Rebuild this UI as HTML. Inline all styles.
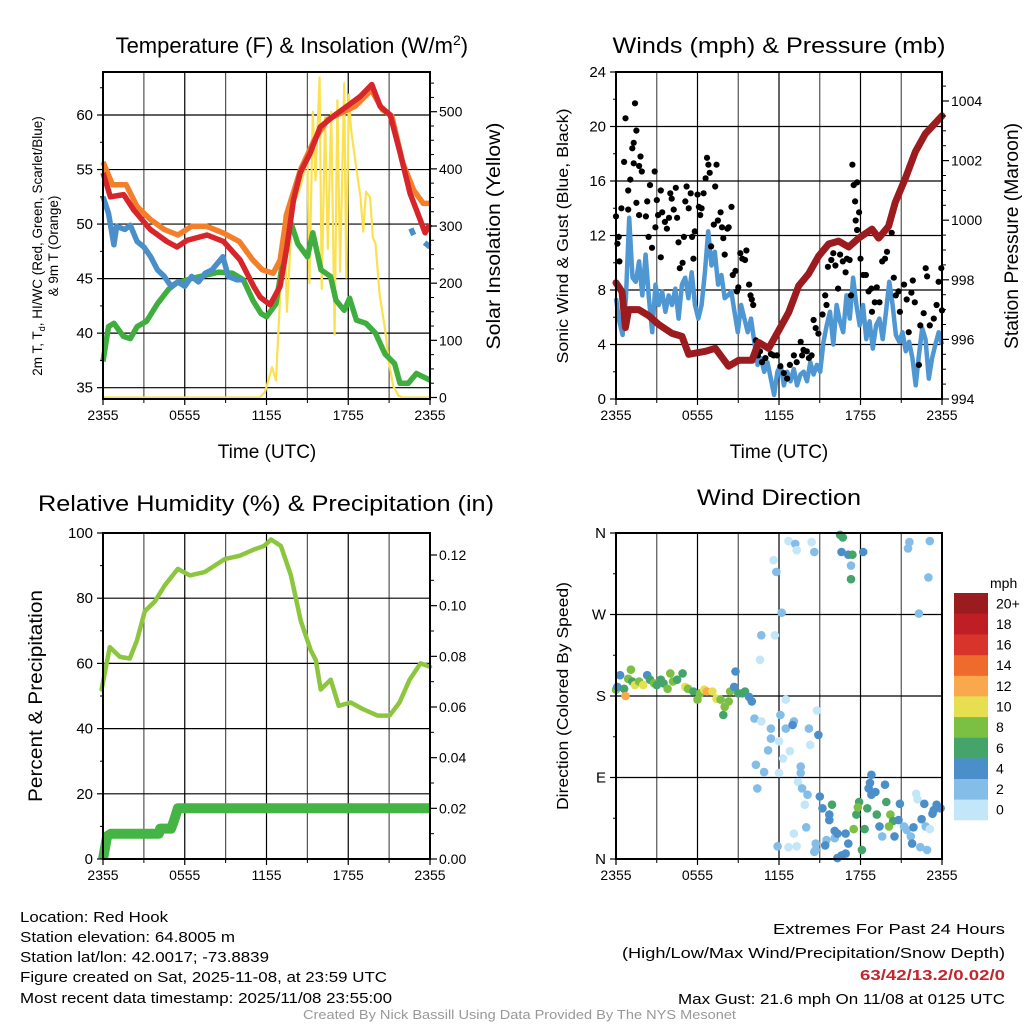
<!DOCTYPE html>
<html><head><meta charset="utf-8"><style>
html,body{margin:0;padding:0;background:#fff;}
svg{display:block;font-family:"Liberation Sans",Arial,sans-serif;}
</style></head><body>
<svg id="fig" width="1024" height="1024" viewBox="0 0 1024 1024" xmlns="http://www.w3.org/2000/svg">
<rect width="1024" height="1024" fill="#fff"/>
<g id="g1"></g>
<g id="g2"></g>
<g id="g3"></g>
<g id="g4"></g>
<g font-size="15" fill="#000">
<text x="20" y="922" textLength="148" lengthAdjust="spacingAndGlyphs">Location: Red Hook</text>
<text x="20" y="942" textLength="215" lengthAdjust="spacingAndGlyphs">Station elevation: 64.8005 m</text>
<text x="20" y="962" textLength="249" lengthAdjust="spacingAndGlyphs">Station lat/lon: 42.0017; -73.8839</text>
<text x="20" y="982" textLength="367" lengthAdjust="spacingAndGlyphs">Figure created on Sat, 2025-11-08, at 23:59 UTC</text>
<text x="20" y="1003" textLength="372" lengthAdjust="spacingAndGlyphs">Most recent data timestamp: 2025/11/08 23:55:00</text>
<text x="1005" y="934" text-anchor="end" textLength="232" lengthAdjust="spacingAndGlyphs">Extremes For Past 24 Hours</text>
<text x="1005" y="958" text-anchor="end" textLength="383" lengthAdjust="spacingAndGlyphs">(High/Low/Max Wind/Precipitation/Snow Depth)</text>
<text x="1005" y="980" text-anchor="end" fill="#c1272d" font-weight="bold" textLength="145" lengthAdjust="spacingAndGlyphs">63/42/13.2/0.02/0</text>
<text x="1005" y="1004" text-anchor="end" textLength="327" lengthAdjust="spacingAndGlyphs">Max Gust: 21.6 mph On 11/08 at 0125 UTC</text>
<text x="303" y="1019" font-size="12.5" fill="#999" textLength="433" lengthAdjust="spacingAndGlyphs">Created By Nick Bassill Using Data Provided By The NYS Mesonet</text>
</g>
</svg>
<script>
// ---------- data ----------
const xTickHours=[0,6,12,18,24];
const xTickLabels=["2355","0555","1155","1755","2355"];
// Panel 1
const redH=[0,0.54,1.52,2.25,3.47,4.69,5.43,6.16,7.63,8.85,10.07,11.05,11.54,12.27,13,13.5,13.98,14.47,15.2,15.94,16.92,17.9,18.88,19.73,20.34,21.08,21.81,22.54,23.28,23.64,24];
const redT=[54.7,52.5,52.7,51.3,49.5,48.4,47.9,48.5,49.0,48.4,46.7,44.3,43.3,42.6,44.3,47.9,52.2,54.7,56.5,58.9,59.9,60.8,61.7,62.8,60.8,60.0,56.5,52.8,50.4,49.2,50.0];
const orgH=[0,0.7,1.7,2.5,3.5,4.5,5.5,6.5,7.6,8.8,10,11,11.7,12.5,13,13.5,14.5,15.5,16.5,17.5,18.5,19.7,20.5,21.2,22,22.8,23.5,24];
const orgT=[55.7,53.6,53.6,51.6,50.4,49.5,49.0,49.8,49.8,49.2,48.4,46.7,45.8,45.5,46.7,51.0,55.0,57.7,59.6,60.2,60.8,62.3,60.5,59.9,55.6,53.1,51.9,51.9];
const bluH=[0,0.4,0.8,1,1.6,2,2.5,3,3.5,4,4.5,5,5.5,6,6.5,7,7.5,8,8.8,9.2,9.8,10.3,null,22.6,22.8,null,23.6,24];
const bluT=[52.5,51,48.1,49.8,49.5,49.9,48.4,47.9,47,45.8,45.2,44.3,44.7,44.3,45.2,44.7,45.5,45.8,47,45.2,44.9,44.9,null,49.6,49.0,null,48.3,47.9];
const grnH=[0,0.4,0.8,1.5,2,2.5,3.2,4,4.8,5.4,6.5,7.5,8.5,9.5,10.3,11,11.6,12,12.7,13.2,13.8,14.3,15,15.4,16,16.7,17.1,17.7,18.1,18.6,19.3,20,20.7,21.4,21.8,22.4,23,23.5,24];
const grnT=[37.4,40.6,40.9,39.7,39.5,40.6,41.1,42.7,44.0,44.6,45.0,45.3,45.6,45.5,44.9,43.0,41.8,41.5,42.7,46.7,50.1,48.2,47.0,49.2,45.8,45.2,43.0,42.1,43.2,41.2,40.9,40.0,38.1,37.2,35.4,35.4,36.3,36.0,35.7];
const solH=[0,11.5,11.9,12.4,12.7,12.9,13.3,13.5,13.9,14.5,15.0,15.15,15.4,15.6,15.9,16.05,16.3,16.5,16.75,17.0,17.2,17.4,17.7,17.85,18.05,18.2,18.6,18.9,19.1,19.3,19.6,19.8,20.0,20.3,20.7,21.0,21.3,21.7,22.0,24];
const solW=[0,0,10,53,30,130,320,150,330,370,420,200,500,380,560,190,490,260,500,110,520,220,550,210,530,470,400,350,290,360,350,280,270,180,120,60,20,3,0,0];
const tTicks=[35,40,45,50,55,60];
const sTicks=[0,100,200,300,400,500];
// Panel 2
const windMph=[7.4,5.7,4.7,7.4,13.3,8.9,8.6,10.1,7.6,10.6,7.4,4.9,8.4,6.9,7.9,6.4,7.6,6.9,8.1,5.9,8.4,8.9,7.4,9.3,6.9,5.9,6.9,9.3,12.3,9.8,10.8,8.4,9.1,7.4,7.6,7.9,6.4,4.9,6.9,5.9,4.9,5.9,4.2,2.5,3.0,2.0,2.7,1.5,0.3,2.0,2.5,1.0,2.0,1.3,2.2,1.0,1.8,2.0,1.3,2.7,1.8,2.5,2.0,4.2,5.4,6.4,4.0,6.9,5.7,4.9,7.6,5.9,8.9,6.9,5.4,6.9,4.4,5.7,3.7,5.4,5.9,4.4,6.4,8.6,6.9,4.7,4.2,4.9,3.5,4.2,3.0,1.0,3.2,5.2,4.4,1.5,3.0,4.0,4.9,4.0];
const gustH=[0,0.1,0.2,0.25,0.4,0.6,0.7,0.9,0.9,1.05,1.2,1.3,1.3,1.5,1.4,1.7,1.8,1.9,1.5,1.7,2.2,2.3,2.4,2.5,2.65,2.85,2.9,3.0,3.1,3.3,3.3,3.4,3.6,3.75,3.9,4.0,4.1,4.25,4.4,4.5,4.6,4.7,4.9,5.0,5.1,5.2,5.35,5.5,5.6,5.7,5.8,6.0,6.1,6.2,6.3,6.45,6.6,6.7,6.8,6.9,7.0,7.2,7.3,7.4,7.5,7.7,7.8,7.9,8.0,8.2,8.3,8.5,8.6,8.8,8.9,9.0,9.15,9.3,9.5,9.6,9.8,9.9,10.0,10.1,10.3,10.45,10.6,10.75,11.0,11.2,11.4,11.6,11.85,12.1,12.35,12.6,12.8,13.1,13.3,13.6,13.7,13.8,14.05,14.2,14.4,14.55,14.7,14.9,15.2,15.4,15.5,15.6,15.85,16.0,16.15,16.35,16.5,16.7,16.9,17.0,17.2,17.3,17.4,17.5,17.75,17.6,17.65,17.75,17.9,18.0,18.2,18.4,18.6,18.8,18.85,19.05,19.2,19.4,19.6,19.8,19.95,20.1,20.3,20.45,20.6,20.8,20.9,21.2,21.4,21.55,21.75,21.85,22.0,22.3,22.4,22.65,22.8,22.9,23.1,23.4,23.6,23.75,23.95,24.0];
const gustMph=[13.4,11.4,11.9,10.1,14,17.4,20.6,15.3,13.9,16.1,18.4,18.8,17.3,19.7,21.7,17.1,17.8,16.7,14.4,13.5,13.4,14.5,11.9,15.7,11.1,16.7,12.6,14.6,13.5,15.3,10.4,13.7,13,12.5,13.3,15.1,14.7,13.9,15.5,13.3,11.5,9.6,10,11.9,14.5,15.6,14,15.1,11.9,10.3,12.3,15,14.1,13.5,14,15.1,16.2,17.7,17.2,16.6,11.2,12.8,15.6,17.2,13.1,13.7,12.6,11.8,10.6,12.5,12.6,14.1,9.1,9.4,7.9,8.2,10.7,10.3,10.2,10.9,8.4,7.6,7.3,6.9,4.3,3.2,3.5,2.7,3.0,3.7,3.3,3.2,3.2,2.4,1.9,1.5,2.5,3.2,2.7,4.2,3.2,3.6,3.5,3.0,3.2,5.8,5.2,4.8,6.2,7.6,6.9,9.7,10.2,10.7,9.8,8.1,10.6,10.1,9.3,10.3,10.2,7.6,17.2,15.7,15.9,14.5,13.1,12.4,13.7,10.3,9.1,9.1,7.9,8.1,6.4,7.1,8.2,7.1,10.1,10.3,10.8,12.8,12.2,8.9,7.6,7.9,6.4,8.4,7.3,4.9,7.8,8.7,7.1,2.5,5.4,6.3,9.6,9.0,5.4,5.9,6.9,8.6,9.6,6.5];
const presH=[0,0.44,0.69,0.93,1.67,2.4,3.14,4.12,4.86,5.35,6.58,7.31,8.29,9.03,10.01,10.5,11.24,11.98,12.71,13.45,14.18,14.92,15.66,16.39,17.13,17.87,18.85,19.34,20.07,20.56,21.3,22.04,22.77,24];
const presMb=[997.9,997.6,996.4,997.0,997.0,996.8,996.5,996.2,996.1,995.5,995.6,995.7,995.1,995.3,995.3,995.9,995.7,996.3,996.9,997.8,998.2,998.8,999.2,999.3,999.1,999.4,999.7,999.4,999.8,1000.6,1001.4,1002.3,1002.9,1003.5];
const wTicks=[0,4,8,12,16,20,24];
const pTicks=[994,996,998,1000,1002,1004];
// Panel 3
const rhH=[-0.1,0.5,1.24,1.97,2.49,3.07,3.8,4.54,5.49,6.37,7.46,8.93,10.02,11.12,11.82,12.33,13.06,13.79,14.52,15.25,15.62,15.98,16.71,17.3,18.18,19.06,20.15,21.03,21.76,22.5,23.3,24];
const rhPct=[52,65,62,61.5,67,76,79,84,89,87,88,92,93,95,96,98,96,87,73,64,61,52,55,47,48,46,44,44,48,55,60,59];
const prH=[0,0.1,0.3,0.6,4.1,4.2,5.0,5.2,5.5,24];
const prIn=[0,0.003,0.009,0.01,0.01,0.012,0.012,0.015,0.02,0.02];
const rhTicks=[0,20,40,60,80,100];
const prTicks=[0,0.02,0.04,0.06,0.08,0.10,0.12];
const prTickLabels=["0.00","0.02","0.04","0.06","0.08","0.10","0.12"];
// Panel 4
const dirH=[0,0.1,0.3,0.6,0.7,0.9,1.1,1.2,1.4,1.7,2.0,2.3,2.5,2.8,3.0,3.3,3.5,3.8,4.0,4.2,4.5,4.9,5.1,5.3,5.7,6.0,6.2,6.5,6.7,7.1,7.4,7.7,7.9,8.0,8.3,8.4,8.7,8.8,9.0,9.3,9.5,9.8,10.0,
10.2,10.7,11.4,11.4,11.2,10.3,10.9,10.4,10.6,10.7,11.7,11.6,11.8,12.2,12.7,13.2,13.3,14.4,14.6,12.5,12.1,12.5,13.1,13.0,12.0,12.8,12.3,12.0,13.6,13.6,13.4,14.2,14.3,14.9,14.8,13.7,14.1,13.9,14.0,13.1,13.3,12.7,11.9,15.0,15.2,15.9,15.7,15.7,16.1,16.1,16.3,15.5,15.4,14.7,14.7,14.6,16.3,16.6,16.9,17.1,16.9,17.5,17.7,17.9,17.8,18.1,18.3,18.5,18.8,18.7,18.6,19.1,18.8,19.8,19.2,19.4,19.6,19.9,20.2,20.4,20.5,20.1,20.8,20.9,21.2,21.4,21.7,21.8,21.9,22.1,22.2,22.5,22.7,22.8,22.9,22.4,23.1,23.4,23.6,23.9,23.3,
16.5,16.7,16.6,17.1,17.4,17.3,17.3,18.2,21.6,21.5,23.1,23.0,22.3];
const dirDeg=[187,190,203,188,180,199,209,196,192,196,192,203,198,194,192,198,194,188,205,196,198,205,190,188,185,176,183,187,185,185,177,176,159,168,174,185,190,207,183,183,185,179,174,
155,152,144,133,120,104,96,78,220,247,247,330,317,272,351,348,341,350,339,176,159,144,152,148,130,119,111,95,95,102,85,144,126,137,164,78,71,60,35,28,14,13,14,69,56,60,49,43,31,23,28,21,15,17,10,8,1,4,6,17,28,33,49,63,57,10,33,56,93,84,78,74,71,82,49,36,25,63,49,42,25,36,43,61,36,32,25,17,35,72,66,44,61,36,10,13,33,54,60,56,50,
358,355,339,336,336,324,309,339,350,343,351,311,271];
const dirSpd=[8,4,4,6,12,8,8,6,10,8,10,4,6,8,6,6,6,8,8,8,6,6,10,8,6,8,8,10,12,10,10,8,6,8,8,8,4,4,6,6,6,4,4,
2,1,3,3,3,2,3,3,1,2,1,1,2,2,1,2,1,1,2,1,3,2,2,4,1,1,1,1,3,2,1,3,1,4,1,3,3,1,3,1,1,1,3,4,4,6,5,4,4,3,4,2,4,3,2,3,4,4,4,4,4,8,6,6,8,6,6,6,4,4,4,4,4,4,6,4,2,6,8,6,4,8,4,4,3,3,3,4,4,1,1,4,4,3,3,2,1,4,4,4,4,
6,6,4,4,6,3,6,4,3,3,3,3,3];
const dirTickDeg=[0,90,180,270,360];
const dirTickLabels=["N","E","S","W","N"];
const cbLabels=["0","2","4","6","8","10","12","14","16","18","20+"];
const cbColors=["#c3e6f8","#84bde7","#4a8fca","#45a46a","#7cc043","#e6df50","#f9a84b","#ef6a2d","#d9342b","#bf1e24","#9a1c1f"];

// ---------- helpers ----------
const NS="http://www.w3.org/2000/svg";
function el(tag,parent,attrs){const e=document.createElementNS(NS,tag);for(const k in attrs)e.setAttribute(k,attrs[k]);parent.appendChild(e);return e;}
function lin(d0,d1,r0,r1){return v=>r0+(v-d0)*(r1-r0)/(d1-d0);}
function pathFrom(xs,ys,fx,fy){let d="",pen=false;for(let i=0;i<xs.length;i++){if(xs[i]===null||ys[i]===null){pen=false;continue;}d+=(pen?"L":"M")+fx(xs[i]).toFixed(1)+" "+fy(ys[i]).toFixed(1);pen=true;}return d;}
function txt(parent,x,y,s,attrs){const t=el("text",parent,attrs);t.setAttribute("x",x);t.setAttribute("y",y);t.textContent=s;return t;}

function frame(g,L,R,T,B,xs,hY,fy){
  const grid=el("g",g,{stroke:"#000","stroke-width":"1.2"});
  
  
  for(let h=3;h<24;h+=3){el("line",grid,{x1:xs(h),x2:xs(h),y1:T,y2:B,stroke:(h%6==0?"#000":"#555")});}
  hY.forEach(v=>{const y=fy(v);if(y>T+1&&y<B-1)el("line",grid,{x1:L,x2:R,y1:y,y2:y});});
  const xt=el("g",g,{"font-size":"14","text-anchor":"middle"});
  
  
  xTickHours.forEach((h,i)=>{el("line",xt,{x1:xs(h),x2:xs(h),y1:B,y2:B+6,stroke:"#000","stroke-width":"1.2"});txt(xt,xs(h),B+21,xTickLabels[i],{});});
  for(let h=3;h<24;h+=6){el("line",xt,{x1:xs(h),x2:xs(h),y1:B,y2:B+4,stroke:"#000","stroke-width":"1"});}
}
function border(g,L,R,T,B){const r=el("rect",g,{x:L,y:T,width:R-L,height:B-T,fill:"none",stroke:"#000","stroke-width":"2"});}
function leftAxis(g,L,vals,labels,fy,minor){
  const a=el("g",g,{"font-size":"15","text-anchor":"end"});
  
  
  vals.forEach((v,i)=>{const y=fy(v);el("line",a,{x1:L-6,x2:L,y1:y,y2:y,stroke:"#000","stroke-width":"1.2"});txt(a,L-10,y+5,labels[i],{});});
  (minor||[]).forEach(v=>{const y=fy(v);el("line",a,{x1:L-3,x2:L,y1:y,y2:y,stroke:"#000","stroke-width":"1"});});
}
function rightAxis(g,R,vals,labels,fy,minor){
  const a=el("g",g,{"font-size":"14","text-anchor":"start"});
  
  
  vals.forEach((v,i)=>{const y=fy(v);el("line",a,{x1:R,x2:R+7,y1:y,y2:y,stroke:"#000","stroke-width":"1.2"});txt(a,R+9,y+5,labels[i],{});});
  (minor||[]).forEach(v=>{const y=fy(v);el("line",a,{x1:R,x2:R+4,y1:y,y2:y,stroke:"#000","stroke-width":"1"});});
}
function rotText(g,x,y,s,size,len){const t=el("text",g,{transform:`translate(${x},${y}) rotate(-90)`,"text-anchor":"middle","font-size":size});if(len){t.setAttribute("textLength",len);t.setAttribute("lengthAdjust","spacingAndGlyphs");}t.textContent=s;return t;}
function range(a,b,s){const r=[];for(let v=a;v<=b+1e-9;v+=s)r.push(+v.toFixed(4));return r;}

// ---------- Panel 1 ----------
(function(){
  const g=document.getElementById("g1");
  const L=103,R=430,T=72,B=399;
  const xs=lin(0,24,L,R), fy=lin(35,60,387.7,115), fs=lin(0,500,397.5,111.7);
  frame(g,L,R,T,B,xs,tTicks,fy);
  const mk=(xsA,ysA,f,col,w)=>el("path",g,{d:pathFrom(xsA,ysA,xs,f),fill:"none",stroke:col,"stroke-width":w,"stroke-linejoin":"round","stroke-linecap":"butt"});
  let p;
  p=mk(solH,solW,fs,"#fbe14f",2.2);
  
  
  p=mk(grnH,grnT,fy,"#3fae3f",5.5);
  
  
  p=mk(orgH,orgT,fy,"#f47f2a",5.5);
  
  
  p=mk(bluH,bluT,fy,"#4a8fca",5.5);
  
  
  p=mk(redH,redT,fy,"#d7262b",5.5);
  
  
  border(g,L,R,T,B);
  leftAxis(g,L,tTicks,tTicks.map(String),fy,range(35,62.5,2.5).filter(v=>v%5));
  rightAxis(g,R,sTicks,sTicks.map(String),fs,range(25,550,25).filter(v=>v%100));
  const t=txt(g,453,53,"Temperature (F) & Insolation (W/m",{"font-size":"22","text-anchor":"end"});
  
  
  const t2=el("text",g,{"font-size":"22"});t2.setAttribute("x","453");t2.setAttribute("y","53");t2.innerHTML='<tspan dy="-8" font-size="14">2</tspan><tspan dy="8">)</tspan>';
  
  
  const xl=txt(g,267,458,"Time (UTC)",{"font-size":"19","text-anchor":"middle"});
  
  
  const yl=el("text",g,{transform:"translate(42,246) rotate(-90)","text-anchor":"middle","font-size":"13.5"});
  yl.innerHTML='2m T, T<tspan font-size="9" dy="3">d</tspan><tspan dy="-3">, HI/WC (Red, Green, Scarlet/Blue)</tspan>';
  
  
  const yl2=rotText(g,58,246,"& 9m T (Orange)",13.5);
  
  
  const yr=rotText(g,500,236,"Solar Insolation (Yellow)",19,227);
  
  
})();

// ---------- Panel 2 ----------
(function(){
  const g=document.getElementById("g2");
  const L=616,R=942,T=72,B=399;
  const xs=lin(0,24,L,R), fw=lin(0,24,399,72), fp=lin(994,1004,399,101);
  frame(g,L,R,T,B,xs,wTicks,fw);
  const wx=windMph.map((v,i)=>i*24/(windMph.length-1));
  let p=el("path",g,{d:pathFrom(wx,windMph,xs,fw),fill:"none",stroke:"#4f97d3","stroke-width":"4.5","stroke-linejoin":"round"});
  
  
  const dots=el("g",g,{fill:"#000"});
  
  
  gustH.forEach((h,i)=>{const c=el("circle",dots,{cx:xs(h).toFixed(1),cy:fw(gustMph[i]).toFixed(1),r:"3.1"});
    
    });
  p=el("path",g,{d:pathFrom(presH,presMb,xs,fp),fill:"none",stroke:"#9b1b1e","stroke-width":"7","stroke-linejoin":"round","stroke-linecap":"round"});
  
  
  border(g,L,R,T,B);
  leftAxis(g,L,wTicks,wTicks.map(String),fw,range(2,22,4));
  rightAxis(g,R,pTicks,pTicks.map(String),fp,range(994.5,1004.5,0.5).filter(v=>v%2));
  const t=txt(g,779,53,"Winds (mph) & Pressure (mb)",{"font-size":"22","text-anchor":"middle",textLength:"333",lengthAdjust:"spacingAndGlyphs"});
  
  
  const xl=txt(g,779,458,"Time (UTC)",{"font-size":"19","text-anchor":"middle"});
  
  
  const yl=rotText(g,568,236,"Sonic Wind & Gust (Blue, Black)",16,255);
  
  
  const yr=rotText(g,1018,236,"Station Pressure (Maroon)",19,226);
  
  
})();

// ---------- Panel 3 ----------
(function(){
  const g=document.getElementById("g3");
  const L=103,R=430,T=533,B=859;
  const xs=lin(0,24,L,R), fr=lin(0,100,859,533), fq=lin(0,0.12,859,555);
  frame(g,L,R,T,B,xs,rhTicks,fr);
  let p=el("path",g,{d:pathFrom(prH,prIn,xs,fq),fill:"none",stroke:"#44b444","stroke-width":"10","stroke-linejoin":"round"});
  
  
  p=el("path",g,{d:pathFrom(rhH,rhPct,xs,fr),fill:"none",stroke:"#8cc63f","stroke-width":"4.5","stroke-linejoin":"round","stroke-linecap":"round"});
  
  
  border(g,L,R,T,B);
  leftAxis(g,L,rhTicks,rhTicks.map(String),fr,range(10,90,20));
  rightAxis(g,R,prTicks,prTickLabels,fq,range(0.01,0.12,0.02));
  const t=txt(g,266,511,"Relative Humidity (%) & Precipitation (in)",{"font-size":"22","text-anchor":"middle",textLength:"456",lengthAdjust:"spacingAndGlyphs"});
  
  
  const yl=rotText(g,42,696,"Percent & Precipitation",19,212);
  
  
})();

// ---------- Panel 4 ----------
(function(){
  const g=document.getElementById("g4");
  const L=616,R=942,T=533,B=859;
  const xs=lin(0,24,L,R), fd=lin(0,360,859,533);
  frame(g,L,R,T,B,xs,dirTickDeg,fd);
  const dots=el("g",g,{});
  
  
  dirH.forEach((h,i)=>{const idx=Math.min(10,Math.floor(dirSpd[i]/2));const c=el("circle",dots,{cx:xs(h).toFixed(1),cy:fd(dirDeg[i]).toFixed(1),r:"4.3",fill:cbColors[idx]});
    
    });
  border(g,L,R,T,B);
  leftAxis(g,L,dirTickDeg,dirTickLabels,fd,range(45,315,90));
  const t=txt(g,779,505,"Wind Direction",{"font-size":"22","text-anchor":"middle",textLength:"164",lengthAdjust:"spacingAndGlyphs"});
  
  
  const yl=rotText(g,568,696,"Direction (Colored By Speed)",16,228);
  
  
  const cb=el("g",g,{"font-size":"14"});
  
  
  const u=txt(cb,990,588,"mph",{});
  
  
  const bh=(820-593)/cbLabels.length;
  cbLabels.forEach((lab,i)=>{const y=820-(i+1)*bh;
    const r=el("rect",cb,{x:954,y:y.toFixed(1),width:34,height:(bh+0.3).toFixed(1),fill:cbColors[i]});
    
    
    const l=txt(cb,996,(y+bh/2+5).toFixed(1),lab,{});
    
    });
})();
</script>
</body></html>
